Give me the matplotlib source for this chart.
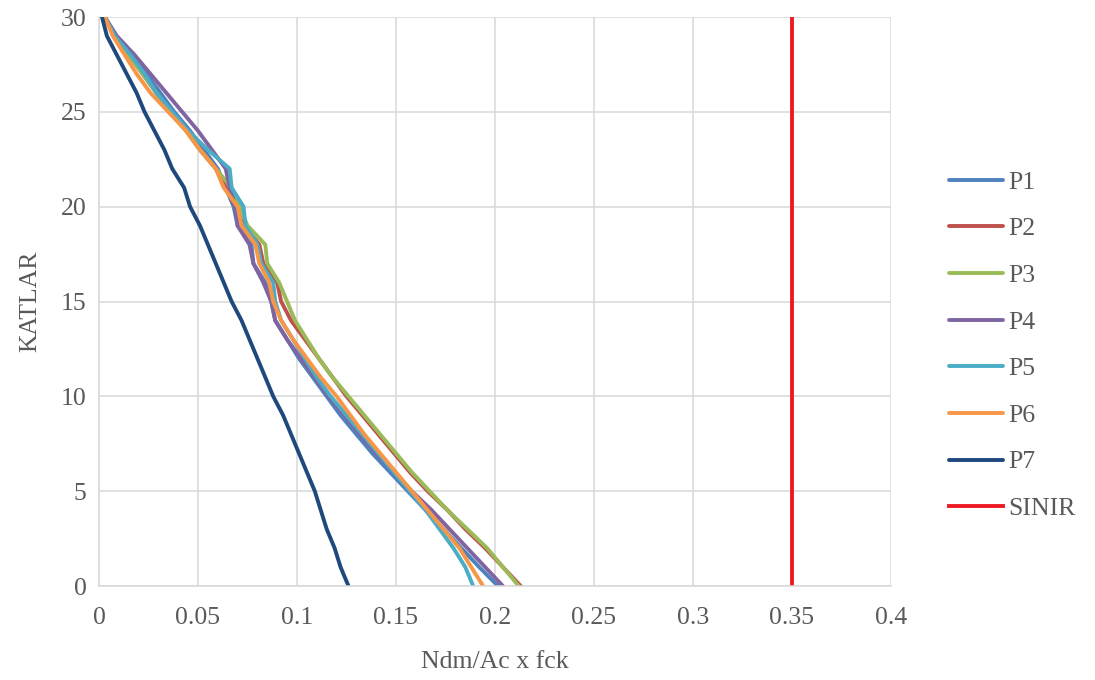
import numpy as np
import matplotlib
matplotlib.use("Agg")
import matplotlib.pyplot as plt

plt.rcParams['font.family'] = ['Liberation Serif', 'DejaVu Serif']

# katlar 0..30
katlar = np.arange(0, 31)

P1 = [0.2015, 0.192, 0.183, 0.174, 0.165, 0.156, 0.147, 0.138, 0.130, 0.122, 0.115,
      0.108, 0.101, 0.095, 0.089, 0.087, 0.084, 0.078, 0.077, 0.070, 0.068,
      0.064, 0.060, 0.053, 0.046, 0.038, 0.031, 0.024, 0.016, 0.008, 0.003]
P2 = [0.213, 0.204, 0.195, 0.185, 0.176, 0.166, 0.157, 0.149, 0.141, 0.133, 0.125,
      0.118, 0.111, 0.104, 0.097, 0.092, 0.090, 0.083, 0.081, 0.073, 0.069,
      0.064, 0.059, 0.051, 0.044, 0.036, 0.029, 0.022, 0.015, 0.008, 0.003]
P3 = [0.212, 0.204, 0.196, 0.186, 0.176, 0.167, 0.158, 0.150, 0.142, 0.134, 0.126,
      0.118, 0.111, 0.105, 0.099, 0.095, 0.091, 0.085, 0.084, 0.075, 0.071,
      0.067, 0.059, 0.051, 0.044, 0.036, 0.029, 0.022, 0.015, 0.008, 0.003]
P4 = [0.204, 0.195, 0.186, 0.177, 0.168, 0.158, 0.149, 0.140, 0.132, 0.124, 0.116,
      0.109, 0.102, 0.095, 0.089, 0.087, 0.083, 0.078, 0.076, 0.070, 0.069,
      0.066, 0.064, 0.057, 0.050, 0.042, 0.034, 0.026, 0.018, 0.009, 0.003]
P5 = [0.189, 0.185, 0.179, 0.172, 0.165, 0.157, 0.149, 0.141, 0.133, 0.125, 0.117,
      0.110, 0.104, 0.098, 0.092, 0.089, 0.088, 0.082, 0.080, 0.074, 0.073,
      0.067, 0.066, 0.055, 0.045, 0.037, 0.029, 0.023, 0.016, 0.008, 0.003]
P6 = [0.194, 0.188, 0.182, 0.174, 0.166, 0.158, 0.150, 0.142, 0.134, 0.127, 0.120,
      0.112, 0.105, 0.098, 0.092, 0.088, 0.086, 0.081, 0.079, 0.072, 0.070,
      0.063, 0.059, 0.051, 0.044, 0.035, 0.026, 0.019, 0.013, 0.007, 0.003]
P7 = [0.126, 0.122, 0.119, 0.115, 0.112, 0.109, 0.105, 0.101, 0.097, 0.093, 0.088,
      0.084, 0.080, 0.076, 0.072, 0.067, 0.063, 0.059, 0.055, 0.051, 0.046,
      0.043, 0.037, 0.033, 0.028, 0.023, 0.019, 0.014, 0.009, 0.004, 0.0015]

sinir_x = [0.35, 0.35]
sinir_y = [0, 30]

seriler = [P1, P2, P3, P4, P5, P6, P7]
isimler = ["P1", "P2", "P3", "P4", "P5", "P6", "P7"]
renkler = ["#4F81BD", "#C0504D", "#9BBB59", "#8064A2", "#4BACC6", "#F79646", "#1F497D"]

gri = "#595959"

fig = plt.figure(figsize=(10.95, 6.8), dpi=100)
ax = fig.add_axes([0.0904, 0.1382, 0.7233, 0.8368])

for s, isim, renk in zip(seriler, isimler, renkler):
    ax.plot(s, katlar, color=renk, lw=2.8, label=isim, solid_capstyle='round')
ax.plot(sinir_x, sinir_y, color="#ED1C24", lw=2.8, label="SINIR")

ax.set_xlim(0, 0.4)
ax.set_ylim(0, 30)
ax.set_xticks(np.arange(0, 0.401, 0.05))
ax.set_xticklabels(["0", "0.05", "0.1", "0.15", "0.2", "0.25", "0.3", "0.35", "0.4"])
ax.set_yticks(np.arange(0, 31, 5))
ax.grid(True, color="#d9d9d9", lw=1.1)
ax.set_axisbelow(True)
for sp in ["top", "right"]:
    ax.spines[sp].set_visible(False)
ax.spines["left"].set_color("#d9d9d9")
ax.spines["bottom"].set_color("#d9d9d9")
ax.spines["left"].set_linewidth(1.1)
ax.spines["bottom"].set_linewidth(1.1)
ax.tick_params(length=0, labelsize=18.5, labelcolor=gri)
ax.tick_params(axis="y", pad=9)
ax.tick_params(axis="x", pad=15)

ax.set_xlabel("Ndm/Ac x fck", fontsize=18.5, color=gri, labelpad=16)
ax.set_ylabel("KATLAR", fontsize=18.5, color=gri, labelpad=14)

leg = ax.legend(loc="center left", bbox_to_anchor=(0.857, 0.492), bbox_transform=fig.transFigure,
                frameon=False, fontsize=18.5, handlelength=2.1, handletextpad=0.2,
                labelspacing=0.92, borderaxespad=0)
for t in leg.get_texts():
    t.set_color(gri)

fig.savefig("out.png", dpi=100)
